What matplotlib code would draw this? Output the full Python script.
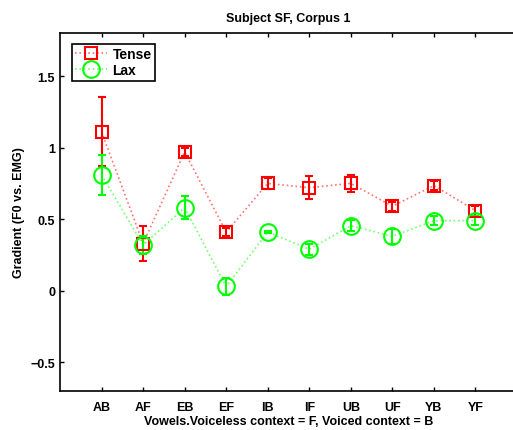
import matplotlib
matplotlib.use("Agg")
import matplotlib.pyplot as plt
import numpy as np

categories = ["AB", "AF", "EB", "EF", "IB", "IF", "UB", "UF", "YB", "YF"]
tense = [1.11, 0.33, 0.97, 0.41, 0.75, 0.72, 0.75, 0.59, 0.735, 0.56]
tense_err = [0.24, 0.12, 0.03, 0.03, 0.04, 0.08, 0.06, 0.03, 0.03, 0.035]
lax = [0.81, 0.32, 0.58, 0.03, 0.41, 0.29, 0.455, 0.38, 0.49, 0.49]
lax_err = [0.14, 0.06, 0.08, 0.06, 0.01, 0.04, 0.04, 0.05, 0.03, 0.03]

plt.rcParams['font.family'] = ['Liberation Sans', 'DejaVu Sans']
plt.rcParams['font.weight'] = 'bold'

fig = plt.figure(figsize=(5.13, 4.31), dpi=100)
ax = fig.add_axes([0.117, 0.0905, 0.8908, 0.8305])

x = np.arange(1, len(categories) + 1)
red = (1, 0, 0)
green = (0, 1, 0)
red_light = (1, 0.45, 0.45)
green_light = (0.45, 1, 0.45)

ax.plot(x, tense, linestyle=':', color=red_light, lw=1.2, zorder=1)
ax.plot(x, lax, linestyle=':', color=green_light, lw=1.2, zorder=1)
ax.errorbar(x, tense, yerr=tense_err, fmt='none', ecolor=red, elinewidth=1.5,
            capsize=3, capthick=1.5, zorder=2)
ax.errorbar(x, lax, yerr=lax_err, fmt='none', ecolor=green, elinewidth=1.5,
            capsize=3, capthick=1.5, zorder=2)
ax.plot(x, tense, linestyle='none', marker='s', ms=9, mfc='none', mec=red, mew=1.5, zorder=3)
ax.plot(x, lax, linestyle='none', marker='o', ms=12, mfc='none', mec=green, mew=1.5, zorder=3)

h1, = ax.plot([], [], linestyle=':', color=red_light, lw=1.2, marker='s', ms=9,
              mfc='none', mec=red, mew=1.5)
h2, = ax.plot([], [], linestyle=':', color=green_light, lw=1.2, marker='o', ms=12,
              mfc='none', mec=green, mew=1.5)
leg = ax.legend([h1, h2], ["Tense", "Lax"], loc='upper left', bbox_to_anchor=(0.01, 0.99),
                fancybox=False, edgecolor='black', framealpha=1, borderpad=0.25,
                labelspacing=0.15, handlelength=2.3, handletextpad=0.4,
                prop={'weight': 'bold', 'size': 10})
leg.get_frame().set_linewidth(1.2)

ax.set_xlim(0, 11)
ax.set_ylim(-0.7, 1.8)
ax.set_xticks(x)
ax.set_xticklabels(categories)
ax.set_yticks([-0.5, 0, 0.5, 1, 1.5])
ax.set_yticklabels(["\u22120.5", "0", "0.5", "1", "1.5"])
ax.tick_params(direction='in', top=True, right=True, length=3, width=1, labelsize=9)
ax.tick_params(axis='x', pad=7)
for s in ax.spines.values():
    s.set_linewidth(1.2)

ax.set_title("Subject SF, Corpus 1", fontsize=9, fontweight='bold', pad=9)
ax.set_xlabel("Vowels.Voiceless context = F, Voiced context = B", fontsize=9,
              fontweight='bold', labelpad=2)
ax.set_ylabel("Gradient (F0 vs. EMG)", fontsize=9, fontweight='bold', labelpad=4)

fig.savefig("out.png", dpi=100)
